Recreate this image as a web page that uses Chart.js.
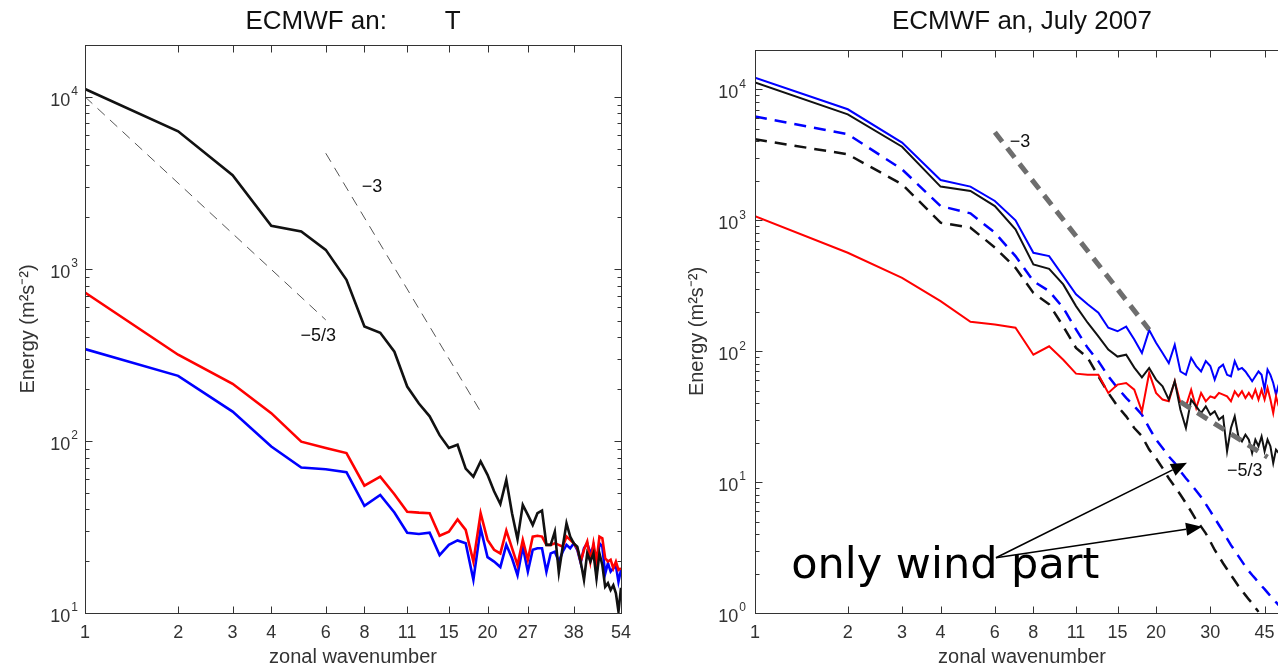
<!DOCTYPE html>
<html>
<head>
<meta charset="utf-8">
<script src="https://cdn.jsdelivr.net/npm/chart.js@4.4.1/dist/chart.umd.min.js"></script>
<style>
  html, body { margin: 0; padding: 0; background: #fff; overflow: hidden; width: 1278px; height: 669px; }
  canvas { position: absolute; top: 0; }
  #left  { left: 0; }
  #right { left: 640px; }
</style>
</head>
<body>
<canvas id="left" width="640" height="669"></canvas>
<canvas id="right" width="690" height="669"></canvas>
<script>
/* ── DATA ─────────────────────────────────────── */
// zonal wavenumbers
const kLeft = [1,2,3,4,5,6,7,8,9,10,11,12,13,14,15,16,17,18,19,20,21,22,23,24,25,26,27,
  28,29,30,31,32,33,34,35,36,37,38,39,40,41,42,43,44,45,46,47,48,49,50,51,52,53,54];
const kRight = [1,2,3,4,5,6,7,8,9,10,11,12,13,14,15,16,17,18,19,20,21,22,23,24,25,
  26,27,28,29,30,31,32,33,34,35,36,37,38,39,40,41,42,43,44,45,46,47,48,49,50];

// left panel  (ECMWF an: T)
const leftBlack = [11100,6300,3500,1780,1650,1290,863,462,425,330,207,165,139,108,91,95,69,62,76,63.5,
  51,43,59.4,38,26.8,42.5,37.2,32.5,38,39.4,24.9,24.9,29.7,17.2,24.3,33.2,27.8,25.4,24.3,19.9,
  15.6,22.2,19.9,22.2,15.9,22.2,19,14.2,14.9,13.6,14.5,13,10.2,14];
const leftRed = [729,317,215,145,99,90.9,85,55,62,49,38.8,38.3,38,28.1,29.7,35,30.4,19.9,38,26.6,
  23.3,22.2,30.1,23.8,19,26.6,20.4,27.8,28.1,27.8,24.9,24.9,25.4,24.9,24.3,27.8,26.6,25.4,23.8,19.9,
  23.3,26,19.9,25.4,19.9,27.8,27.2,20.8,19.9,20.4,18.2,19.9,17.8,18.2];
const leftBlue = [342,239,148,92.8,70,68.5,65.8,41.9,48.5,38.4,29.3,28.8,29.3,21.7,24.9,26.4,25.4,15.6,31.1,21.1,
  19.9,18.5,24.9,20.8,16.6,24.3,17.4,23.3,23.8,23.8,17.4,22.2,22.7,19.9,22.7,24.9,23.8,25.4,23.3,19.6,
  23.8,25.4,22.2,24.3,16.9,25.4,24.3,16.9,19.5,17.4,18.2,18.8,15.2,17.8];

// right panel  (ECMWF an, July 2007)
const rightBlue = [12300,7050,3920,2030,1810,1405,1000,565,533,375,272,228,197,151,142,154,123,97,145,116,
  97,81,112,70,66,89,77,70,84,77,60.7,74.5,79,66,64.3,84,72.4,74.5,70,64.3,
  58.9,64.3,70,66,50.8,72.4,66,57.2,46.6,55.6];
const rightBlack = [11300,6450,3650,1810,1675,1285,853,460,426,324,221,165,130,103,91,94,75,63,74.5,60.7,
  54,42.7,58.9,35.7,25.9,42.7,37.9,33.7,37.9,32.7,34.7,30,31.8,17.2,25.9,31.8,22.3,20.5,23,21.1,
  16.7,21.1,18.8,22.3,17.2,21.1,18.8,14,17.7,16.7];
const rightRed = [1077,565,363,241,168,160,151,94,109,86,67.4,66.2,66.2,48,55.6,57.2,50.8,34.7,68.2,48,
  42.7,41.4,58.9,40.2,37.9,50.8,36.8,48,41.4,45.2,43.9,48,46.6,45.2,41.4,49.4,45.2,49.4,43.9,48,
  43.9,50.8,42.7,50.8,42.7,52.4,42.7,33.7,45.2,37.9];
const rightBlueWind = [6200,4540,2450,1285,1130,804,533,343,288,214,147,106,84,64.4,52.4,44,38,32.7,26,21.1,
  18.2,15.7,14,12.1,10.7,9.6,8.6,7.7,6.8,6,5.3,4.7,4.2,3.7,3.3,3,2.72,2.48,2.26,2.09,
  1.95,1.83,1.71,1.61,1.52,1.43,1.35,1.28,1.21,1.15];
const rightBlackWind = [4160,3190,1885,960,878,620,434,279,228,155,106,89,64.4,48,38,31.8,25.9,22.4,17.7,15.2,
  12.8,10.7,9.25,8,6.9,5.96,5.14,4.57,4.06,3.51,3.03,2.7,2.4,2.16,1.95,1.77,1.61,1.48,1.37,1.27,
  1.19,1.1,1.02];

// reference slopes [k, E] end points
const leftSlope53 = [[1, 10000], [6, 505]];
const leftSlope3  = [[6, 4700], [19, 148]];
const rightSlope3  = [[6, 4700], [19, 146]];
const rightSlope53 = [[24, 41], [46, 15.5]];

// tick labels
const leftXTicks  = [1,2,3,4,6,8,11,15,20,27,38,54];
const rightXTicks = [1,2,3,4,6,8,11,15,20,30,45,54];
const leftYTicks  = [10,100,1000,10000];
const rightYTicks = [1,10,100,1000,10000];

/* ── HELPERS ──────────────────────────────────── */
const FONT = '"Liberation Sans", Arial, Helvetica, sans-serif';
const pts  = (ks, vs) => vs.map((v, i) => ({ x: ks[i], y: v }));
const pair = p => p.map(([x, y]) => ({ x, y }));

function series(data, color, width, dash) {
  return {
    data, borderColor: color, borderWidth: width, borderDash: dash || [],
    pointRadius: 0, tension: 0, fill: false, borderCapStyle: 'butt'
  };
}

function arrow(ctx, x0, y0, x1, y1) {
  const a = Math.atan2(y1 - y0, x1 - x0), L = 16, W = 6.5;
  const bx = x1 - L * Math.cos(a), by = y1 - L * Math.sin(a);
  ctx.beginPath(); ctx.moveTo(x0, y0); ctx.lineTo(bx, by); ctx.stroke();
  ctx.beginPath(); ctx.moveTo(x1, y1);
  ctx.lineTo(bx + W * Math.sin(a), by - W * Math.cos(a));
  ctx.lineTo(bx - W * Math.sin(a), by + W * Math.cos(a));
  ctx.closePath(); ctx.fill();
}

// box, inward ticks, 10^n labels and notes
function decor(spec) {
  return {
    id: 'decor',
    afterDraw(chart) {
      const { ctx, chartArea: ca, scales: { x, y } } = chart;
      ctx.save();
      ctx.strokeStyle = '#333'; ctx.lineWidth = 1;
      const L = Math.round(ca.left) + 0.5, R = Math.round(ca.right) + 0.5;
      const T = Math.round(ca.top) + 0.5, B = Math.round(ca.bottom) + 0.5;
      ctx.strokeRect(L, T, R - L, B - T);
      ctx.beginPath();
      spec.xTicks.forEach(v => {
        const px = Math.round(x.getPixelForValue(v)) + 0.5;
        ctx.moveTo(px, B); ctx.lineTo(px, B - 7);
        ctx.moveTo(px, T); ctx.lineTo(px, T + 7);
      });
      spec.yTicks.forEach(v => {
        const py = Math.round(y.getPixelForValue(v)) + 0.5;
        ctx.moveTo(L, py); ctx.lineTo(L + 7, py);
        ctx.moveTo(R, py); ctx.lineTo(R - 7, py);
        for (let m = 2; m <= 9; m++) {
          if (v * m > y.max) break;
          const pm = Math.round(y.getPixelForValue(v * m)) + 0.5;
          ctx.moveTo(L, pm); ctx.lineTo(L + 4, pm);
          ctx.moveTo(R, pm); ctx.lineTo(R - 4, pm);
        }
      });
      ctx.stroke();

      // 10^n labels
      ctx.fillStyle = '#333'; ctx.textBaseline = 'middle'; ctx.textAlign = 'left';
      spec.yTicks.forEach(v => {
        const py = y.getPixelForValue(v);
        const e = String(Math.round(Math.log10(v)));
        ctx.font = '12px ' + FONT; const ew = ctx.measureText(e).width;
        ctx.font = '18px ' + FONT; const bw = ctx.measureText('10').width;
        const xr = ca.left - spec.labelGap;
        ctx.fillText('10', xr - ew - bw - 1, py + 4);
        ctx.font = '12px ' + FONT;
        ctx.fillText(e, xr - ew, py - 5);
      });

      // slope labels and other notes
      (spec.notes || []).forEach(n => {
        ctx.font = n.font; ctx.fillStyle = n.color || '#111';
        ctx.textAlign = n.align || 'center'; ctx.textBaseline = n.baseline || 'middle';
        ctx.fillText(n.text, x.getPixelForValue(n.k), y.getPixelForValue(n.v));
      });
      ctx.strokeStyle = '#000'; ctx.fillStyle = '#000'; ctx.lineWidth = 1.6;
      (spec.arrows || []).forEach(a => {
        arrow(ctx, x.getPixelForValue(a.from[0]), y.getPixelForValue(a.from[1]),
                   x.getPixelForValue(a.to[0]),   y.getPixelForValue(a.to[1]));
      });
      ctx.restore();
    }
  };
}

function options(o) {
  return {
    responsive: false,
    animation: false,
    layout: { padding: { right: o.padRight } },
    plugins: {
      legend: { display: false },
      tooltip: { enabled: false },
      title: {
        display: true, text: o.title, color: '#111', fullSize: false,
        font: { family: FONT, size: 26, weight: 'normal' },
        padding: { top: 6.4, bottom: o.titleBottom }
      }
    },
    scales: {
      x: {
        type: 'logarithmic', min: 1, max: 54,
        grid: { display: false, drawTicks: false }, border: { display: false },
        afterBuildTicks: s => { s.ticks = o.xTicks.map(v => ({ value: v })); },
        afterFit: s => { s.height = 56; },
        ticks: {
          autoSkip: false, maxRotation: 0, minRotation: 0, padding: 9, color: '#333',
          font: { family: FONT, size: 18 }, callback: v => String(v)
        },
        title: {
          display: true, text: 'zonal wavenumber', color: '#333',
          font: { family: FONT, size: 20 }, padding: { top: 0, bottom: 0 }
        }
      },
      y: {
        type: 'logarithmic', min: o.yMin, max: 20000,
        grid: { display: false, drawTicks: false }, border: { display: false },
        ticks: { display: false },
        afterFit: s => { s.width = o.yWidth; },
        title: {
          display: true, text: 'Energy (m²s⁻²)', color: '#333',
          font: { family: FONT, size: 20 }, padding: { top: o.yTitlePad, bottom: 0 }
        }
      }
    }
  };
}

/* ── LEFT CHART ───────────────────────────────── */
new Chart(document.getElementById('left'), {
  type: 'line',
  data: {
    datasets: [
      series(pts(kLeft, leftBlack), '#111', 2.6),
      series(pts(kLeft, leftRed), '#ff0000', 2.6),
      series(pts(kLeft, leftBlue), '#0000ff', 2.6),
      series(pair(leftSlope53), '#555', 1, [10, 7]),
      series(pair(leftSlope3), '#555', 1, [10, 7])
    ]
  },
  options: options({
    title: 'ECMWF an:        T', titleBottom: 7.4, padRight: 17,
    xTicks: leftXTicks, yMin: 10, yWidth: 85, yTitlePad: 16
  }),
  plugins: [decor({
    xTicks: leftXTicks, yTicks: leftYTicks, labelGap: 7,
    notes: [
      { text: '−3', k: 8.46, v: 3000, font: '18px ' + FONT },
      { text: '−5/3', k: 5.67, v: 408, font: '18px ' + FONT }
    ]
  })]
});

/* ── RIGHT CHART ──────────────────────────────── */
new Chart(document.getElementById('right'), {
  type: 'line',
  data: {
    datasets: [
      series(pair(rightSlope3), '#6e6e6e', 5, [12, 8]),
      series(pair(rightSlope53), '#6e6e6e', 5, [12, 8]),
      series(pts(kRight, rightBlack), '#111', 2),
      series(pts(kRight, rightRed), '#ff0000', 2),
      series(pts(kRight, rightBlue), '#0000ff', 2),
      series(pts(kRight, rightBlackWind), '#111', 2.5, [12, 8]),
      series(pts(kRight, rightBlueWind), '#0000ff', 2.5, [12, 8])
    ]
  },
  options: options({
    title: 'ECMWF an, July 2007', titleBottom: 12.4, padRight: 41,
    xTicks: rightXTicks, yMin: 1, yWidth: 115, yTitlePad: 45
  }),
  plugins: [decor({
    xTicks: rightXTicks, yTicks: rightYTicks, labelGap: 9,
    notes: [
      { text: '−3', k: 7.24, v: 3945, font: '18px ' + FONT },
      { text: '−5/3', k: 38.8, v: 12.2, font: '18px ' + FONT },
      { text: 'only wind part', k: 1.31, v: 1.85, font: '43px "DejaVu Sans", Verdana, sans-serif',
        color: '#000', align: 'left', baseline: 'alphabetic' }
    ],
    arrows: [
      { from: [6.05, 2.64], to: [25.2, 14.05] },
      { from: [6.05, 2.64], to: [28.2, 4.55] }
    ]
  })]
});
</script>
</body>
</html>
